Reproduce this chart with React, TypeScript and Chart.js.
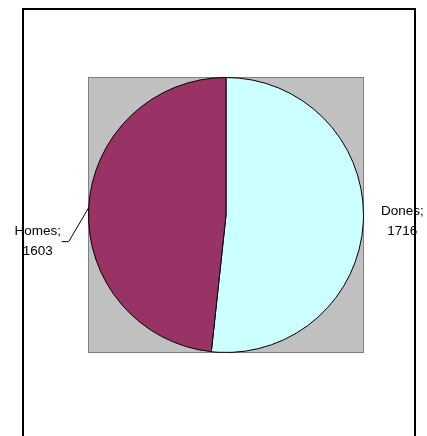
import React, { useEffect, useRef } from "react";
import { Chart, registerables } from "chart.js";

Chart.register(...registerables);

const categories = ["Dones", "Homes"];
const values = [1716, 1603];
const sliceColors = ["#CCFFFF", "#993366"];

const decorPlugin = {
  id: "decor",
  beforeDatasetsDraw(chart: any) {
    const { ctx, chartArea } = chart;
    ctx.save();
    // outer chart border
    ctx.strokeStyle = "#000";
    ctx.lineWidth = 2;
    ctx.strokeRect(23, 9, 392, 500);
    // plot area
    ctx.fillStyle = "#C0C0C0";
    ctx.fillRect(chartArea.left, chartArea.top, chartArea.right - chartArea.left, chartArea.bottom - chartArea.top);
    ctx.strokeStyle = "#808080";
    ctx.lineWidth = 1;
    ctx.strokeRect(chartArea.left + 0.5, chartArea.top + 0.5, chartArea.right - chartArea.left - 1, chartArea.bottom - chartArea.top - 1);
    ctx.restore();
  },
  afterDatasetsDraw(chart: any) {
    const { ctx } = chart;
    const meta = chart.getDatasetMeta(0);
    ctx.save();
    ctx.font = "13.5px 'Liberation Sans', Arial, sans-serif";
    ctx.fillStyle = "#000";
    ctx.textAlign = "center";
    ctx.textBaseline = "middle";
    meta.data.forEach((arc: any, i: number) => {
      const p = arc.getProps(["x", "y", "startAngle", "endAngle", "outerRadius"], true);
      const mid = (p.startAngle + p.endAngle) / 2;
      const ex = p.x + Math.cos(mid) * p.outerRadius;
      const ey = p.y + Math.sin(mid) * p.outerRadius;
      const left = Math.cos(mid) < 0;
      let tx: number, ty: number;
      if (left) {
        tx = ex - 51;
        ty = ey + 34;
        ctx.strokeStyle = "#000";
        ctx.lineWidth = 1;
        ctx.beginPath();
        ctx.moveTo(ex, ey);
        ctx.lineTo(ex - 20, ty);
        ctx.lineTo(ex - 27, ty);
        ctx.stroke();
      } else {
        tx = ex + 39;
        ty = ey - 1;
      }
      ctx.fillText(categories[i] + ";", tx, ty - 10);
      ctx.fillText(String(values[i]), tx, ty + 10);
    });
    ctx.restore();
  },
};

export default function App() {
  const ref = useRef<HTMLCanvasElement | null>(null);
  useEffect(() => {
    if (!ref.current) return;
    const chart = new Chart(ref.current, {
      type: "pie",
      data: {
        labels: categories,
        datasets: [
          {
            data: values,
            backgroundColor: sliceColors,
            borderColor: "#000",
            borderWidth: 1,
          },
        ],
      },
      options: {
        animation: false,
        responsive: false,
        layout: { padding: { left: 88, right: 63, top: 77, bottom: 83 } },
        plugins: { legend: { display: false }, tooltip: { enabled: false } },
      },
      plugins: [decorPlugin],
    });
    return () => chart.destroy();
  }, []);
  return (
    <div style={{ position: "absolute", left: 0, top: 0, width: 427, height: 436, background: "#fff" }}>
      <canvas ref={ref} width={427} height={436} style={{ display: "block" }} />
    </div>
  );
}
